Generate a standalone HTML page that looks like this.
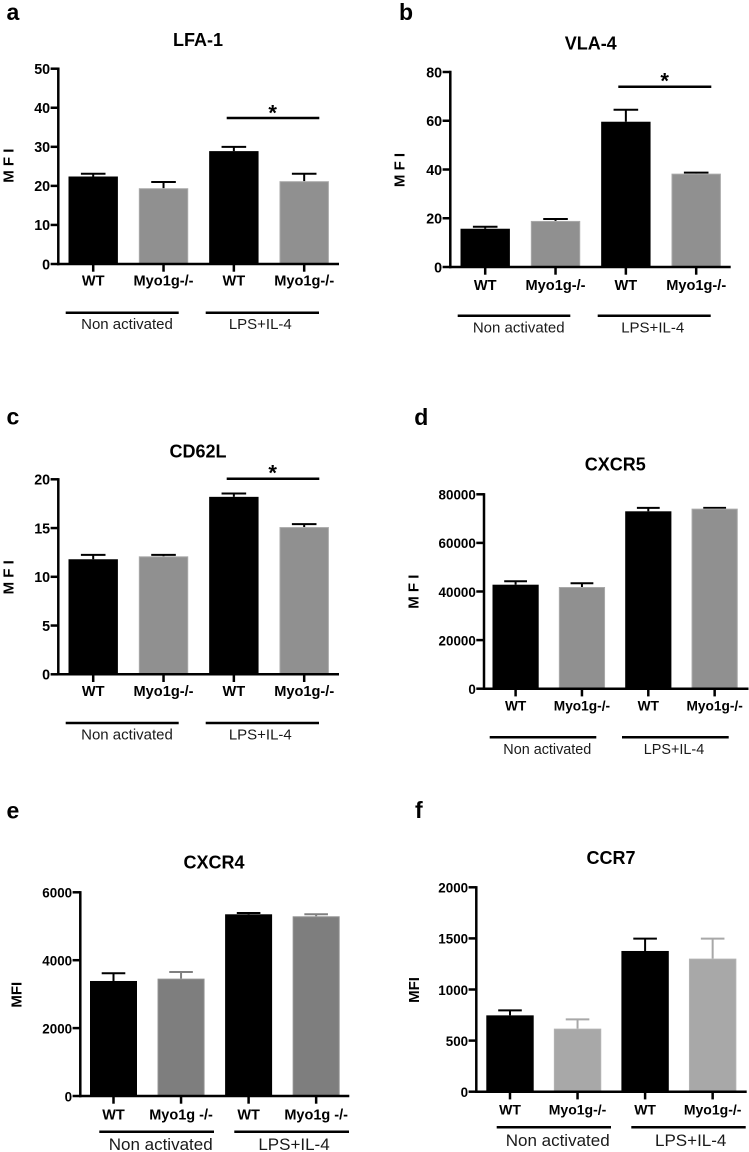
<!DOCTYPE html>
<html lang="en">
<head>
<meta charset="utf-8">
<title>MFI bar charts</title>
<style>
html,body{margin:0;padding:0;background:#fff;width:749px;height:1152px;overflow:hidden}
svg{display:block;filter:blur(0.3px)}
text{font-family:"Liberation Sans",Arial,sans-serif;fill:#000}
.letter{font-size:23px;font-weight:700}
.title{font-size:18px;font-weight:700;text-anchor:middle}
.ylab{font-size:15px;font-weight:700;text-anchor:middle}
.group{font-size:15px;text-anchor:middle;fill:#1a1a1a}
.big{font-size:17px}
.rule{stroke:#000;stroke-width:2.5}
.star{font-size:22px;font-weight:700;text-anchor:middle}
</style>
</head>
<body>
<svg width="749" height="1152" viewBox="0 0 749 1152" xmlns="http://www.w3.org/2000/svg">
  <g>
    <text class="letter" x="6.5" y="20">a</text>
    <text class="title" x="198" y="46">LFA-1</text>
    <text class="ylab" transform="translate(13.3 165.7) rotate(-90)">M F I</text>
    <g id="chart-a"></g>
    <line class="rule" x1="226.7" x2="319.3" y1="118" y2="118"/>
    <text class="star" x="272.7" y="120.5">*</text>
    <line class="rule" x1="65.7" x2="178.7" y1="312.7" y2="312.7"/>
    <line class="rule" x1="205.7" x2="319" y1="312.7" y2="312.7"/>
    <text class="group" x="127" y="329">Non activated</text>
    <text class="group" x="260.3" y="329">LPS+IL-4</text>
  </g>
  <g>
    <text class="letter" x="399" y="20">b</text>
    <text class="title" x="590.7" y="49.7">VLA-4</text>
    <text class="ylab" transform="translate(404.3 170) rotate(-90)">M F I</text>
    <g id="chart-b"></g>
    <line class="rule" x1="618.3" x2="711.3" y1="86.7" y2="86.7"/>
    <text class="star" x="664.7" y="88.5">*</text>
    <line class="rule" x1="457.7" x2="570.3" y1="315.7" y2="315.7"/>
    <line class="rule" x1="597.7" x2="710.7" y1="315.7" y2="315.7"/>
    <text class="group" x="518.7" y="332.7">Non activated</text>
    <text class="group" x="652.7" y="332.7">LPS+IL-4</text>
  </g>
  <g>
    <text class="letter" x="6.5" y="424.3">c</text>
    <text class="title" x="198" y="457.3">CD62L</text>
    <text class="ylab" transform="translate(13.3 577.3) rotate(-90)">M F I</text>
    <g id="chart-c"></g>
    <line class="rule" x1="226.7" x2="319.3" y1="478.7" y2="478.7"/>
    <text class="star" x="272.7" y="480.5">*</text>
    <line class="rule" x1="65.7" x2="178.7" y1="723" y2="723"/>
    <line class="rule" x1="205.7" x2="319" y1="723" y2="723"/>
    <text class="group" x="127" y="739.7">Non activated</text>
    <text class="group" x="260.3" y="739.7">LPS+IL-4</text>
  </g>
  <g>
    <text class="letter" x="414.3" y="425">d</text>
    <text class="title" x="615.3" y="470.7">CXCR5</text>
    <text class="ylab" transform="translate(418.7 591.7) rotate(-90)">M F I</text>
    <g id="chart-d"></g>
    <line class="rule" x1="489.7" x2="596.3" y1="737.3" y2="737.3"/>
    <line class="rule" x1="622" x2="728.7" y1="737.3" y2="737.3"/>
    <text class="group" style="font-size:14.4px" x="547.3" y="754">Non activated</text>
    <text class="group" style="font-size:14.4px" x="674" y="754">LPS+IL-4</text>
  </g>
  <g>
    <text class="letter" x="6.5" y="818.3">e</text>
    <text class="title" x="214" y="868.7">CXCR4</text>
    <text class="ylab" transform="translate(21.3 994.7) rotate(-90)">MFI</text>
    <g id="chart-e"></g>
    <line class="rule" x1="99.3" x2="214" y1="1131.7" y2="1131.7"/>
    <line class="rule" x1="234.3" x2="349" y1="1131.7" y2="1131.7"/>
    <text class="group big" x="160.7" y="1150">Non activated</text>
    <text class="group big" x="294" y="1150">LPS+IL-4</text>
  </g>
  <g>
    <text class="letter" x="415" y="818">f</text>
    <text class="title" x="611" y="864">CCR7</text>
    <text class="ylab" transform="translate(419 990) rotate(-90)">MFI</text>
    <g id="chart-f"></g>
    <line class="rule" x1="496.7" x2="611" y1="1127.3" y2="1127.3"/>
    <line class="rule" x1="631.3" x2="745.7" y1="1127.3" y2="1127.3"/>
    <text class="group big" x="557.7" y="1146">Non activated</text>
    <text class="group big" x="690.7" y="1146">LPS+IL-4</text>
  </g>
</svg>
<script>
const categoriesStandard = ["WT", "Myo1g-/-", "WT", "Myo1g-/-"];
const categoriesSpaced = ["WT", "Myo1g -/-", "WT", "Myo1g -/-"];

const lfaTicks = [0, 10, 20, 30, 40, 50];
const lfaValues = [22.4, 19.4, 28.9, 21.2];
const lfaErrors = [0.7, 1.6, 1.1, 1.9];

const vlaTicks = [0, 20, 40, 60, 80];
const vlaValues = [15.7, 18.9, 59.6, 38.3];
const vlaErrors = [0.8, 0.8, 4.9, 0.4];

const cd62Ticks = [0, 5, 10, 15, 20];
const cd62Values = [11.8, 12.1, 18.2, 15.1];
const cd62Errors = [0.45, 0.15, 0.35, 0.3];

const cxcr5Ticks = [0, 20000, 40000, 60000, 80000];
const cxcr5Values = [42800, 41850, 73000, 74100];
const cxcr5Errors = [1400, 1550, 1400, 300];

const cxcr4Ticks = [0, 2000, 4000, 6000];
const cxcr4Values = [3388, 3457, 5352, 5293];
const cxcr4Errors = [226, 196, 39, 59];

const ccr7Ticks = [0, 500, 1000, 1500, 2000];
const ccr7Values = [747, 617, 1377, 1302];
const ccr7Errors = [49, 91, 121, 196];

const SVGNS = "http://www.w3.org/2000/svg";

function make(tag, attrs, parent) {
  const el = document.createElementNS(SVGNS, tag);
  for (const k in attrs) el.setAttribute(k, attrs[k]);
  parent.appendChild(el);
  return el;
}

function yScale(p, ticks) {
  const max = ticks[ticks.length - 1];
  return function (v) { return p.zero - (v / max) * (p.zero - p.top); };
}

function xScale(p) {
  return function (i) { return p.first + i * p.step; };
}

function drawChart(id, p, categories, ticks, values, errors) {
  const root = document.getElementById(id);
  const y = yScale(p, ticks);
  const x = xScale(p);

  values.forEach(function (v, i) {
    const cx = x(i);
    const isKnockout = i % 2 === 1;
    const errColor = isKnockout ? p.errColor : "#000";
    const top = y(v + errors[i]);

    const stem = make("line", {x1: cx, x2: cx, y1: y(v), y2: top, stroke: errColor, "stroke-width": 2}, root);
    
    

    const cap = make("line", {x1: cx - p.cap, x2: cx + p.cap, y1: top, y2: top, stroke: errColor, "stroke-width": 2}, root);
    
    

    const bar = make("rect", {
      x: cx - p.barW / 2 + 0.5,
      y: y(v) + 0.5,
      width: p.barW - 1,
      height: p.zero - y(v) - 0.5,
      fill: isKnockout ? p.barColor : "#000",
      stroke: isKnockout ? p.barEdge : "#000",
      "stroke-width": 1
    }, root);
    
    

    const tick = make("line", {x1: cx, x2: cx, y1: p.zero, y2: p.zero + 7.7, stroke: "#000", "stroke-width": 2.5}, root);
    
    

    const lab = make("text", {x: cx, y: p.catY, "text-anchor": "middle", "font-weight": 700, "font-size": p.catSize}, root);
    lab.textContent = categories[i];
    
    
  });

  ticks.forEach(function (t) {
    const tick = make("line", {x1: p.axisX - 7.7, x2: p.axisX, y1: y(t), y2: y(t), stroke: "#000", "stroke-width": 2.5}, root);
    
    

    const lab = make("text", {x: p.axisX - 8.2, y: y(t) + 5.3, "text-anchor": "end", "font-weight": 700, "font-size": p.tickSize}, root);
    lab.textContent = String(t);
    
    
  });

  const yAxis = make("line", {x1: p.axisX, x2: p.axisX, y1: p.top - 1.2, y2: p.zero + 1.2, stroke: "#000", "stroke-width": 2.5}, root);
  
  

  const xAxis = make("line", {x1: p.axisX - 1, x2: p.right, y1: p.zero, y2: p.zero, stroke: "#000", "stroke-width": 2.5}, root);
  
  
}

drawChart("chart-a", {axisX: 58.3, top: 68.7, zero: 264, right: 339, first: 93.2, step: 70.33, barW: 49.4, cap: 12.3, catY: 285.7, catSize: 14.6, tickSize: 14.3, barColor: "#909090", barEdge: "#a9a9a9", errColor: "#000"}, categoriesStandard, lfaTicks, lfaValues, lfaErrors);
drawChart("chart-b", {axisX: 450.3, top: 72, zero: 267, right: 730.7, first: 485.2, step: 70.33, barW: 49.4, cap: 12.3, catY: 290, catSize: 14.6, tickSize: 14.3, barColor: "#909090", barEdge: "#a9a9a9", errColor: "#000"}, categoriesStandard, vlaTicks, vlaValues, vlaErrors);
drawChart("chart-c", {axisX: 58.3, top: 479.3, zero: 674.3, right: 339, first: 93.2, step: 70.33, barW: 49.4, cap: 12.3, catY: 696, catSize: 14.6, tickSize: 14.3, barColor: "#909090", barEdge: "#a9a9a9", errColor: "#000"}, categoriesStandard, cd62Ticks, cd62Values, cd62Errors);
drawChart("chart-d", {axisX: 484, top: 494.3, zero: 688.7, right: 748.5, first: 515.6, step: 66.35, barW: 46.2, cap: 11.4, catY: 710.7, catSize: 13.7, tickSize: 13.4, barColor: "#909090", barEdge: "#a9a9a9", errColor: "#000"}, categoriesStandard, cxcr5Ticks, cxcr5Values, cxcr5Errors);
drawChart("chart-e", {axisX: 80.3, top: 892.3, zero: 1096, right: 349.3, first: 113.5, step: 67.55, barW: 47, cap: 11.8, catY: 1119.3, catSize: 14.5, tickSize: 13.4, barColor: "#7e7e7e", barEdge: "#909090", errColor: "#808080"}, categoriesSpaced, cxcr4Ticks, cxcr4Values, cxcr4Errors);
drawChart("chart-f", {axisX: 476.3, top: 887.3, zero: 1091.7, right: 746.7, first: 510, step: 67.55, barW: 47.4, cap: 11.8, catY: 1114.7, catSize: 14, tickSize: 13.4, barColor: "#a8a8a8", barEdge: "#b2b2b2", errColor: "#a8a8a8"}, categoriesStandard, ccr7Ticks, ccr7Values, ccr7Errors);
</script>
</body>
</html>
